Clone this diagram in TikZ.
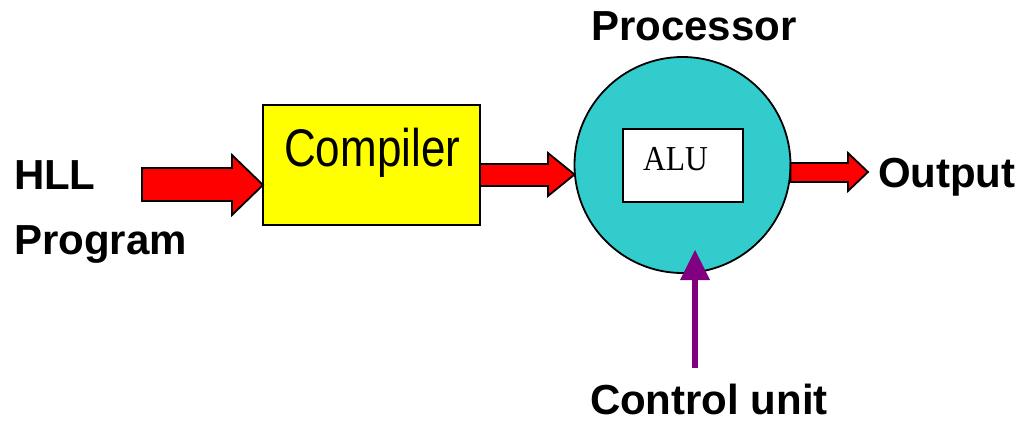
\documentclass[tikz,border=0pt]{standalone}
\usepackage{fontspec}
\setmainfont{Liberation Sans}
\newfontfamily\serifalu{Liberation Serif}
\definecolor{boxyellow}{HTML}{FFFF00}
\definecolor{proccyan}{HTML}{33CCCC}
\definecolor{arrred}{HTML}{FF0000}
\definecolor{ctlpurple}{HTML}{800080}
\begin{document}
\begin{tikzpicture}[x=1pt,y=-1pt,
  lbl/.style={anchor=base west,inner sep=0pt,outer sep=0pt,font=\fontsize{42}{42}\selectfont\bfseries},
  blockarrow/.style={fill=arrred,draw=black,line width=1.8pt,line join=miter},
  outline/.style={draw=black,line width=1.8pt,inner sep=0pt,outer sep=0pt}]
\useasboundingbox (0,0) rectangle (1022,423);
% compiler box
\node[outline,fill=boxyellow,rectangle,minimum width=217pt,minimum height=120pt] (comp) at (371.5,165) {};
\node[anchor=base west,inner sep=0pt] (comptxt) at (284,166) {\fontsize{53}{53}\selectfont\scalebox{0.83}[1]{Compiler}};
% processor
\node[outline,fill=proccyan,circle,minimum size=216pt] (proc) at (682.5,165) {};
\node[outline,fill=white,rectangle,minimum width=120pt,minimum height=73pt] (alu) at (683,165.5) {};
\node[anchor=base west,inner sep=0pt] (alutxt) at (643,170.5) {\serifalu\fontsize{35}{35}\selectfont\scalebox{0.9}[1]{ALU}};
% labels
\node[lbl] (hll) at (14,189) {HLL};
\node[lbl] (prog) at (14,254) {Program};
\node[lbl] (proclbl) at (591,40) {Processor};
\node[lbl] (out) at (878,187) {Output};
\node[lbl] (ctl) at (590,414) {Control unit};
% block arrows
\draw[blockarrow] (142,168) -- (232,168) -- (232,155) -- (comp.west |- 0,185) -- (232,215) -- (232,201) -- (142,201) -- cycle;
\draw[blockarrow] (comp.east |- 0,164) -- (548,164) -- (548,153) -- (proc.west |- 0,174.5) -- (548,196) -- (548,186) -- (comp.east |- 0,186) -- cycle;
\draw[blockarrow] (proc.east |- 0,163) -- (848,163) -- (848,153) -- (868,172) -- (848,191) -- (848,182) -- (proc.east |- 0,182) -- cycle;
% control arrow
\coordinate (ctlstart) at (695,368);
\coordinate (ctltip) at (695,250);
\draw[ctlpurple,line width=6pt] (ctlstart) -- (695,279);
\fill[ctlpurple] (680,280) -- (ctltip) -- (710,280) -- cycle;
\end{tikzpicture}
\end{document}
